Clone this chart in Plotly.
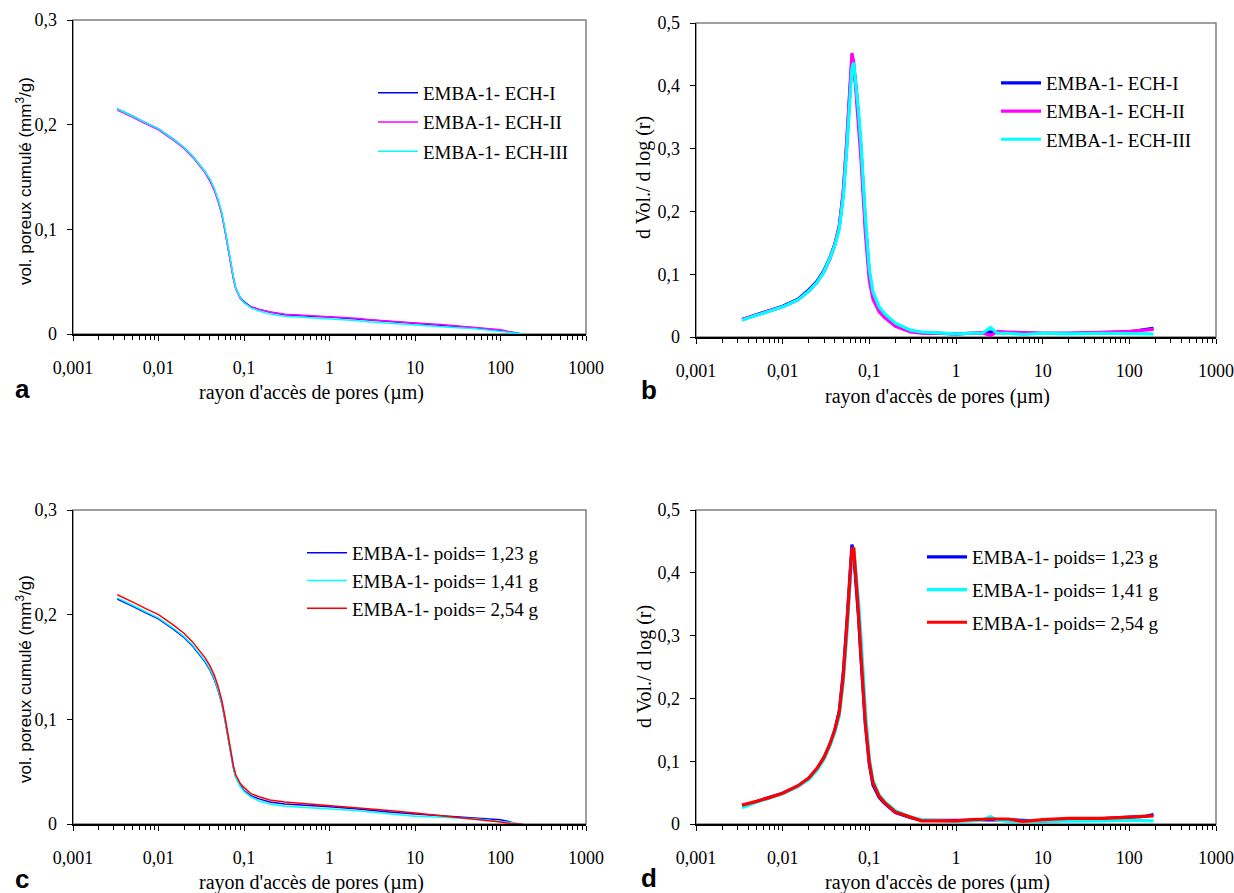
import plotly.graph_objects as go

# ---------------- data ----------------
x_tick_vals = [0.001, 0.01, 0.1, 1, 10, 100, 1000]
x_tick_text = ["0,001", "0,01", "0,1", "1", "10", "100", "1000"]
y_cum_vals = [0, 0.1, 0.2, 0.3]
y_cum_text = ["0", "0,1", "0,2", "0,3"]
y_psd_vals = [0, 0.1, 0.2, 0.3, 0.4, 0.5]
y_psd_text = ["0", "0,1", "0,2", "0,3", "0,4", "0,5"]

# cumulative pore volume (panels a, c)
r_cum = [0.0033, 0.004, 0.005, 0.007, 0.01, 0.015, 0.02, 0.025, 0.03, 0.035, 0.04, 0.045,
         0.05, 0.055, 0.06, 0.065, 0.07, 0.075, 0.08, 0.09, 0.1, 0.12, 0.15, 0.2, 0.3,
         0.5, 0.7, 1, 2, 3, 5, 10, 20, 50, 100, 130, 150, 180]
cum_ech1 = [0.215, 0.212, 0.208, 0.202, 0.196, 0.186, 0.178, 0.170, 0.162, 0.155, 0.147, 0.138,
            0.127, 0.115, 0.099, 0.082, 0.067, 0.054, 0.044, 0.035, 0.031, 0.026, 0.0235, 0.021, 0.0185,
            0.0172, 0.0168, 0.0163, 0.0145, 0.013, 0.0115, 0.0100, 0.0085, 0.006, 0.0035, 0.002, 0.0005, 0.0]
cum_ech2 = [0.214, 0.211, 0.207, 0.201, 0.195, 0.185, 0.177, 0.169, 0.161, 0.154, 0.146, 0.137,
            0.126, 0.114, 0.098, 0.081, 0.066, 0.053, 0.043, 0.034, 0.030, 0.026, 0.0235, 0.021, 0.0188,
            0.0178, 0.0173, 0.017, 0.015, 0.0135, 0.012, 0.0105, 0.009, 0.0065, 0.004, 0.002, 0.0005, 0.0]
cum_ech3 = [0.215, 0.212, 0.208, 0.202, 0.196, 0.186, 0.178, 0.170, 0.162, 0.155, 0.148, 0.139,
            0.128, 0.116, 0.100, 0.083, 0.068, 0.055, 0.044, 0.035, 0.030, 0.025, 0.022, 0.019, 0.017,
            0.0158, 0.0152, 0.0148, 0.013, 0.0115, 0.010, 0.0085, 0.007, 0.005, 0.0025, 0.0015, 0.001, 0.0]
cum_p123 = [0.215, 0.212, 0.208, 0.202, 0.196, 0.186, 0.178, 0.170, 0.162, 0.155, 0.147, 0.138,
            0.127, 0.115, 0.099, 0.082, 0.067, 0.054, 0.045, 0.037, 0.032, 0.027, 0.024, 0.021, 0.019,
            0.018, 0.017, 0.0165, 0.0145, 0.013, 0.0115, 0.0095, 0.008, 0.006, 0.004, 0.002, 0.0005, 0.0]
cum_p141 = [0.216, 0.213, 0.209, 0.203, 0.197, 0.187, 0.179, 0.171, 0.163, 0.156, 0.148, 0.139,
            0.128, 0.116, 0.100, 0.083, 0.068, 0.055, 0.045, 0.036, 0.031, 0.026, 0.022, 0.019, 0.017,
            0.016, 0.0153, 0.015, 0.013, 0.0115, 0.010, 0.0075, 0.0065, 0.005, 0.0025, 0.0015, 0.001, 0.0]
cum_p254 = [0.219, 0.216, 0.212, 0.206, 0.200, 0.190, 0.182, 0.174, 0.166, 0.159, 0.151, 0.142,
            0.131, 0.118, 0.102, 0.085, 0.069, 0.056, 0.047, 0.039, 0.035, 0.029, 0.026, 0.023, 0.021,
            0.0195, 0.0185, 0.018, 0.016, 0.0145, 0.013, 0.0105, 0.008, 0.005, 0.002, 0.0005, 0.0, 0.0]

# pore size distribution dV/dlog(r) (panels b, d)
r_psd = [0.0034, 0.004, 0.005, 0.007, 0.01, 0.015, 0.02, 0.025, 0.03, 0.035, 0.04, 0.045, 0.05,
         0.055, 0.06, 0.063, 0.066, 0.07, 0.075, 0.08, 0.09, 0.1, 0.11, 0.13, 0.15, 0.2, 0.3,
         0.4, 0.6, 1, 1.5, 2, 2.5, 3, 4, 6, 10, 20, 50, 100, 150, 190]
psd_ech1 = [0.028, 0.031, 0.036, 0.042, 0.049, 0.060, 0.075, 0.089, 0.106, 0.126, 0.148, 0.176, 0.229,
            0.309, 0.400, 0.443, 0.432, 0.400, 0.350, 0.300, 0.180, 0.100, 0.068, 0.045, 0.035, 0.020, 0.010,
            0.007, 0.006, 0.005, 0.006, 0.006, 0.008, 0.007, 0.007, 0.006, 0.006, 0.006, 0.007, 0.008, 0.012, 0.014]
psd_ech2 = [0.028, 0.031, 0.035, 0.041, 0.048, 0.059, 0.073, 0.087, 0.104, 0.124, 0.147, 0.176, 0.232,
            0.315, 0.410, 0.452, 0.438, 0.395, 0.340, 0.285, 0.165, 0.090, 0.060, 0.040, 0.031, 0.017, 0.008,
            0.006, 0.006, 0.005, 0.006, 0.007, 0.002, 0.009, 0.008, 0.007, 0.006, 0.006, 0.007, 0.009, 0.011, 0.012]
psd_ech3 = [0.027, 0.030, 0.035, 0.041, 0.048, 0.059, 0.073, 0.087, 0.104, 0.125, 0.146, 0.172, 0.222,
            0.300, 0.385, 0.428, 0.437, 0.405, 0.360, 0.310, 0.190, 0.108, 0.072, 0.048, 0.037, 0.022, 0.011,
            0.008, 0.007, 0.005, 0.006, 0.006, 0.015, 0.006, 0.006, 0.004, 0.006, 0.005, 0.006, 0.006, 0.006, 0.005]
psd_p123 = [0.029, 0.031, 0.036, 0.042, 0.049, 0.060, 0.073, 0.088, 0.106, 0.126, 0.150, 0.180, 0.240,
            0.320, 0.405, 0.445, 0.430, 0.390, 0.330, 0.265, 0.160, 0.095, 0.062, 0.042, 0.033, 0.018, 0.010,
            0.006, 0.006, 0.005, 0.006, 0.007, 0.007, 0.007, 0.007, 0.006, 0.004, 0.006, 0.008, 0.010, 0.012, 0.015]
psd_p141 = [0.026, 0.030, 0.035, 0.041, 0.048, 0.060, 0.071, 0.086, 0.103, 0.124, 0.146, 0.172, 0.225,
            0.300, 0.390, 0.430, 0.440, 0.405, 0.355, 0.300, 0.180, 0.105, 0.070, 0.046, 0.036, 0.021, 0.011,
            0.007, 0.006, 0.004, 0.005, 0.006, 0.012, 0.006, 0.004, 0.004, 0.005, 0.005, 0.005, 0.006, 0.006, 0.005]
psd_p254 = [0.030, 0.032, 0.036, 0.042, 0.049, 0.061, 0.073, 0.089, 0.106, 0.127, 0.150, 0.178, 0.235,
            0.315, 0.400, 0.438, 0.440, 0.395, 0.335, 0.270, 0.160, 0.098, 0.066, 0.044, 0.034, 0.019, 0.011,
            0.005, 0.005, 0.005, 0.007, 0.008, 0.008, 0.008, 0.008, 0.004, 0.007, 0.009, 0.009, 0.011, 0.013, 0.013]

names_ech = ["EMBA-1- ECH-I", "EMBA-1- ECH-II", "EMBA-1- ECH-III"]
names_poids = ["EMBA-1- poids= 1,23 g", "EMBA-1- poids= 1,41 g", "EMBA-1- poids= 2,54 g"]

BLUE, MAGENTA, CYAN, RED = "#0000FF", "#FF00FF", "#00FFFF", "#FF0000"

# ---------------- figure ----------------
W, H = 1234, 893
SERIF = "Liberation Serif, Times New Roman, serif"
SANS = "Liberation Sans, Arial, sans-serif"
FS_TICK = 18
FS_LEG = 19
FS_TITLE = 20

fig = go.Figure()

def add(xs, ys, name, color, width, ax, grp):
    k = "" if ax == 1 else str(ax)
    fig.add_trace(go.Scatter(
        x=xs, y=ys, mode="lines", name=name,
        line=dict(color=color, width=width),
        xaxis="x" + k, yaxis="y" + k, legend="legend" + k,
        legendgroup=grp, hoverinfo="skip"))

for ys, nm, c, g in [(cum_ech1, names_ech[0], BLUE, "a1"), (cum_ech2, names_ech[1], MAGENTA, "a2"),
                     (cum_ech3, names_ech[2], CYAN, "a3")]:
    add(r_cum, ys, nm, c, 1.5, 1, g)
for ys, nm, c, g in [(psd_ech1, names_ech[0], BLUE, "b1"), (psd_ech2, names_ech[1], MAGENTA, "b2"),
                     (psd_ech3, names_ech[2], CYAN, "b3")]:
    add(r_psd, ys, nm, c, 3.2, 2, g)
for ys, nm, c, g in [(cum_p123, names_poids[0], BLUE, "c1"), (cum_p141, names_poids[1], CYAN, "c2"),
                     (cum_p254, names_poids[2], RED, "c3")]:
    add(r_cum, ys, nm, c, 1.5, 3, g)
for ys, nm, c, g in [(psd_p123, names_poids[0], BLUE, "d1"), (psd_p141, names_poids[1], CYAN, "d2"),
                     (psd_p254, names_poids[2], RED, "d3")]:
    add(r_psd, ys, nm, c, 3.2, 4, g)

def xax(x0, x1, anchor):
    return dict(domain=[x0 / W, x1 / W], type="log", range=[-3, 3], anchor=anchor,
                tickvals=x_tick_vals, ticktext=x_tick_text, automargin=False,
                ticks="outside", ticklen=5, tickwidth=1, tickcolor="black",
                showline=True, linecolor="black", linewidth=1.5,
                showgrid=False, zeroline=False,
                minor=dict(ticks="outside", ticklen=4, tickwidth=1, tickcolor="black",
                           tickvals=[m * 10 ** e for e in range(-3, 3) for m in range(2, 10)],
                           showgrid=False),
                tickfont=dict(family=SERIF, size=FS_TICK, color="black"),
                ticklabelstandoff=12, fixedrange=True)

def yax(y0, y1, vals, text, anchor):
    return dict(domain=[1 - y1 / H, 1 - y0 / H], range=[0, vals[-1]],
                tickvals=vals, ticktext=text, anchor=anchor, automargin=False,
                ticks="outside", ticklen=5, tickwidth=1, tickcolor="black",
                showline=True, linecolor="black", linewidth=1.5,
                showgrid=False, zeroline=False,
                tickfont=dict(family=SERIF, size=FS_TICK, color="black"),
                ticklabelstandoff=6, fixedrange=True)

def leg(xpx, ypx, gap):
    return dict(x=xpx / W, y=1 - ypx / H, xanchor="left", yanchor="top",
                bgcolor="rgba(0,0,0,0)", borderwidth=0,
                font=dict(family=SERIF, size=FS_LEG, color="black"),
                tracegroupgap=gap, itemwidth=40)

fig.update_layout(
    template="none",
    width=W, height=H, autosize=False,
    margin=dict(l=0, r=0, t=0, b=0, pad=0),
    paper_bgcolor="white", plot_bgcolor="white",
    showlegend=True,
    xaxis=xax(73, 586, "y"), yaxis=yax(20, 334, y_cum_vals, y_cum_text, "x"),
    xaxis2=xax(696, 1216, "y2"), yaxis2=yax(23, 337, y_psd_vals, y_psd_text, "x2"),
    xaxis3=xax(73, 586, "y3"), yaxis3=yax(510, 824, y_cum_vals, y_cum_text, "x3"),
    xaxis4=xax(696, 1216, "y4"), yaxis4=yax(510, 824, y_psd_vals, y_psd_text, "x4"),
    legend=leg(373, 74, 1.5),
    legend2=leg(996, 64, 0.5),
    legend3=leg(302, 534, 0),
    legend4=leg(922, 538, 5),
)

shapes = []
for k in ["", "2", "3", "4"]:
    shapes.append(dict(type="rect", xref=f"x{k} domain", yref=f"y{k} domain",
                       x0=0, x1=1, y0=0, y1=1, layer="below",
                       line=dict(color="#808080", width=1.5)))
fig.update_layout(shapes=shapes)

ann = []
def txt(xp, yp, s, font, size, angle=0, bold=False, xanchor="center"):
    ann.append(dict(x=xp / W, y=1 - yp / H, xref="paper", yref="paper",
                    text=(f"<b>{s}</b>" if bold else s),
                    showarrow=False, textangle=angle, xanchor=xanchor, yanchor="middle",
                    font=dict(family=font, size=size, color="black")))

xt = "rayon d'accès de pores (µm)"
txt(311, 392, xt, SERIF, FS_TITLE)
txt(938, 396, xt, SERIF, FS_TITLE)
txt(311, 882, xt, SERIF, FS_TITLE)
txt(938, 882, xt, SERIF, FS_TITLE)
yt1 = "vol. poreux cumulé (mm<sup>3</sup>/g)"
yt2 = "d Vol./ d log (r)"
txt(24, 181, yt1, SANS, 17, -90)
txt(644, 178, yt2, SERIF, FS_TITLE, -90)
txt(24, 679, yt1, SANS, 17, -90)
txt(644, 667, yt2, SERIF, FS_TITLE, -90)
txt(13, 389, "a", SANS, 26, bold=True, xanchor="left")
txt(639, 390, "b", SANS, 26, bold=True, xanchor="left")
txt(13, 879, "c", SANS, 26, bold=True, xanchor="left")
txt(639, 878, "d", SANS, 26, bold=True, xanchor="left")
fig.update_layout(annotations=ann)

fig.write_html("out.html", config={"displayModeBar": False, "staticPlot": True},
               post_script="document.body.style.margin='0px';")
